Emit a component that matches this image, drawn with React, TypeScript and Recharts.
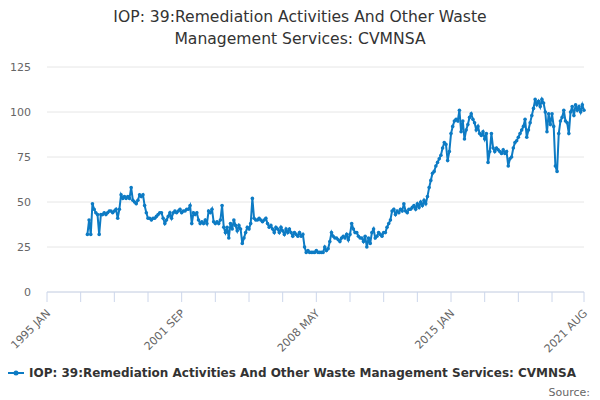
import { LineChart, Line, XAxis, YAxis, CartesianGrid } from "recharts";

const TITLE = "IOP: 39:Remediation Activities And Other Waste Management Services: CVMNSA";
const MONTHS = ["JAN", "FEB", "MAR", "APR", "MAY", "JUN", "JUL", "AUG", "SEP", "OCT", "NOV", "DEC"];
const FIRST_YEAR = 1995;
const DATA_START_YEAR = 1997;

// monthly values per year
const v1997 = [32, 40, 32, 49, 46, 44, 43, 32, 43, 43, 44, 43];
const v1998 = [44, 45, 45, 44, 45, 46, 41, 46, 54, 52, 53, 52];
const v1999 = [53, 52, 58, 51, 50, 49, 51, 54, 53, 54, 48, 44];
const v2000 = [41, 41, 40, 41, 41, 42, 43, 44, 44, 41, 38, 40];
const v2001 = [42, 44, 41, 44, 45, 44, 45, 46, 44, 45, 45, 46];
const v2002 = [46, 48, 38, 44, 43, 44, 40, 38, 39, 38, 40, 38];
const v2003 = [45, 44, 46, 39, 38, 39, 38, 40, 48, 36, 33, 36];
const v2004 = [30, 38, 35, 40, 37, 34, 37, 35, 27, 30, 33, 36];
const v2005 = [35, 38, 52, 41, 40, 40, 41, 40, 39, 40, 41, 38];
const v2006 = [36, 37, 35, 33, 36, 35, 33, 36, 34, 32, 35, 33];
const v2007 = [35, 33, 31, 33, 32, 31, 33, 31, 32, 25, 22, 23];
const v2008 = [22, 22, 22, 22, 23, 22, 22, 22, 22, 25, 23, 24];
const v2009 = [28, 33, 31, 30, 30, 29, 28, 30, 31, 30, 32, 29];
const v2010 = [32, 38, 35, 33, 33, 31, 30, 30, 28, 31, 25, 30];
const v2011 = [27, 33, 35, 30, 31, 33, 32, 31, 33, 33, 36, 38];
const v2012 = [40, 45, 46, 43, 45, 44, 46, 45, 49, 45, 44, 46];
const v2013 = [46, 47, 48, 46, 49, 47, 50, 48, 51, 49, 53, 58];
const v2014 = [62, 66, 67, 70, 72, 74, 76, 80, 83, 82, 73, 78];
const v2015 = [88, 92, 95, 96, 95, 101, 89, 95, 85, 90, 93, 97];
const v2016 = [99, 96, 94, 90, 92, 88, 87, 89, 85, 88, 72, 78];
const v2017 = [88, 80, 78, 80, 79, 78, 77, 79, 77, 78, 70, 74];
const v2018 = [75, 80, 83, 84, 86, 88, 90, 92, 96, 86, 90, 94];
const v2019 = [98, 102, 107, 104, 106, 103, 107, 105, 100, 89, 99, 93];
const v2020 = [99, 92, 70, 67, 88, 95, 97, 101, 95, 94, 88, 100];
const v2021 = [103, 98, 104, 101, 103, 100, 104, 101];

const values = [
  v1997, v1998, v1999, v2000, v2001, v2002, v2003, v2004, v2005, v2006, v2007, v2008, v2009,
  v2010, v2011, v2012, v2013, v2014, v2015, v2016, v2017, v2018, v2019, v2020, v2021,
].flat();

const yTicks = [0, 25, 50, 75, 100, 125];
const LAST = 319; // 2021 AUG
const xTicks = [0, 20, 40, 60, 80, 100, 120, 140, 160, 180, 200, 220, 240, 260, 280, 300, LAST];
const labelled = [0, 80, 160, 240, LAST];

const offset = (DATA_START_YEAR - FIRST_YEAR) * 12;
const data = Array.from({ length: LAST + 1 }, (_, i) => ({
  i,
  label: `${FIRST_YEAR + Math.floor(i / 12)} ${MONTHS[i % 12]}`,
  value: i >= offset && i - offset < values.length ? values[i - offset] : null,
}));

const BLUE = "#0d7bc4";
const FONT = "'DejaVu Sans', Verdana, sans-serif";

const XTick = ({ x, y, payload }: any) => {
  if (!labelled.includes(payload.value)) return null;
  const tx = x + 4;
  const ty = y + 10;
  return (
    <text
      x={tx}
      y={ty}
      transform={`rotate(-45 ${tx} ${ty})`}
      textAnchor="end"
      fontSize={11}
      fill="#666"
      fontFamily={FONT}
    >
      {data[payload.value].label}
    </text>
  );
};

export default function App() {
  return (
    <div style={{ position: "absolute", left: 0, top: 0, width: 600, height: 400, fontFamily: FONT, background: "#fff" }}>
      <div
        style={{
          position: "absolute",
          left: 90,
          width: 420,
          top: 6,
          textAlign: "center",
          fontSize: 15.6,
          lineHeight: "22px",
          color: "#333",
        }}
      >
        {TITLE}
      </div>
      <LineChart width={600} height={400} data={data} margin={{ top: 67, right: 16, left: 0, bottom: 0 }}>
        <CartesianGrid vertical={false} stroke="#e6e6e6" />
        <XAxis
          dataKey="i"
          type="number"
          domain={[0, LAST]}
          ticks={xTicks}
          tick={<XTick />}
          tickSize={10}
          height={108}
          stroke="#ccd6eb"
          interval={0}
        />
        <YAxis
          domain={[0, 125]}
          ticks={yTicks}
          width={47}
          axisLine={false}
          tickLine={false}
          tickSize={0}
          tickMargin={16}
          tick={{ fontSize: 11, fill: "#666", fontFamily: FONT }}
        />
        <Line
          dataKey="value"
          stroke={BLUE}
          strokeWidth={2}
          dot={{ r: 1.8, fill: BLUE, stroke: BLUE, strokeWidth: 0 }}
          isAnimationActive={false}
          connectNulls={false}
        />
      </LineChart>
      <div style={{ position: "absolute", left: 8, top: 366, display: "flex", alignItems: "center" }}>
        <svg width={16} height={12} style={{ marginRight: 5 }}>
          <line x1={0} y1={6} x2={16} y2={6} stroke={BLUE} strokeWidth={2} />
          <circle cx={8} cy={6} r={2.5} fill={BLUE} />
        </svg>
        <span style={{ fontSize: 12, fontWeight: "bold", color: "#333", whiteSpace: "nowrap" }}>{TITLE}</span>
      </div>
      <div style={{ position: "absolute", right: 10, top: 386, fontSize: 11, color: "#666" }}>Source:</div>
    </div>
  );
}
